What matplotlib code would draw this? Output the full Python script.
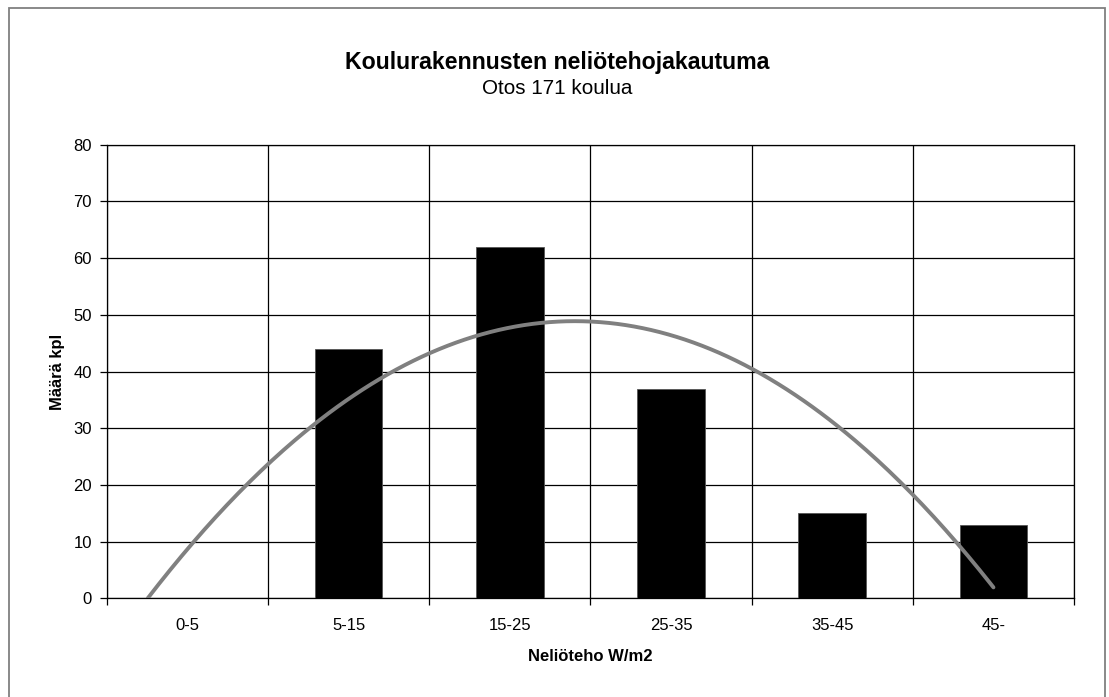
import numpy as np
import matplotlib.pyplot as plt
from matplotlib.patches import Rectangle

plt.rcParams['font.family'] = ['Liberation Sans', 'DejaVu Sans']

# Neliötehoryhmät ja koulujen lukumäärät (yht. 171)
categories = ["0-5", "5-15", "15-25", "25-35", "35-45", "45-"]
counts = [0, 44, 62, 37, 15, 13]
y_ticks = [0, 10, 20, 30, 40, 50, 60, 70, 80]

x = np.arange(len(categories))

fig = plt.figure(figsize=(11.09, 6.97), dpi=100)
ax = fig.add_axes([0.0962, 0.1416, 0.8723, 0.6508])

# outer frame (bottom edge runs off the page)
fig.add_artist(Rectangle((9 / 1109, -0.05), (1105 - 9) / 1109, 1 - 8 / 697 + 0.05,
                         transform=fig.transFigure, fill=False,
                         edgecolor="#808080", linewidth=1.3))

ax.bar(x, counts, width=0.42, color="black", edgecolor="#555555", linewidth=0.6, zorder=3)

# 2nd order polynomial trendline, cut where it reaches zero
coef = np.polyfit(x, counts, 2)
roots = np.roots(coef)
x0 = roots[roots < 0.5].max()
xs = np.linspace(x0, x[-1], 300)
ax.plot(xs, np.polyval(coef, xs), color="#808080", linewidth=2.8,
        solid_capstyle="round", zorder=4)

ax.set_xlim(-0.5, len(categories) - 0.5)
ax.set_ylim(0, 80)
ax.set_yticks(y_ticks)
ax.set_xticks(x)
ax.set_xticklabels(categories)
ax.set_xticks(np.arange(-0.5, len(categories)), minor=True)

ax.grid(True, which="major", axis="y", color="black", linewidth=0.9, zorder=1)
ax.grid(True, which="minor", axis="x", color="black", linewidth=0.9, zorder=1)
ax.tick_params(axis="x", which="major", length=0, pad=14, labelsize=12)
ax.tick_params(axis="x", which="minor", length=5, direction="out", width=0.9)
ax.tick_params(axis="y", length=5, direction="out", width=0.9, pad=5.5, labelsize=12)
for s in ax.spines.values():
    s.set_linewidth(0.9)
    s.set_color("black")

ax.set_xlabel("Neliöteho W/m2", fontsize=12, fontweight="bold", labelpad=12)
ax.set_ylabel("Määrä kpl", fontsize=12, fontweight="bold", labelpad=6)

fig.text(0.5027, 1 - 62 / 697, "Koulurakennusten neliötehojakautuma",
         ha="center", va="center", fontsize=16.7, fontweight="bold")
fig.text(0.5027, 1 - 88 / 697, "Otos 171 koulua", ha="center", va="center", fontsize=14.9)

fig.savefig("out.png", dpi=100)
